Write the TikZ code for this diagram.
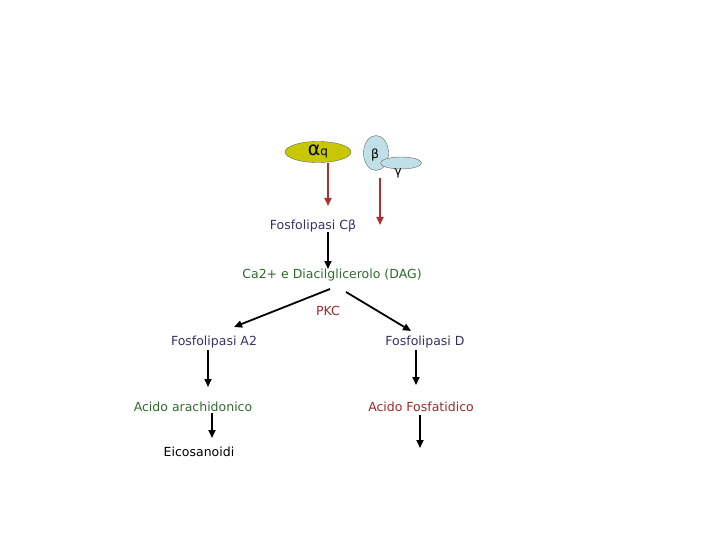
\documentclass[tikz,border=0pt]{standalone}
\usepackage{fontspec}
\setmainfont{DejaVu Sans}
\usetikzlibrary{arrows.meta,shapes.geometric}
\definecolor{navy}{HTML}{333366}
\definecolor{dgreen}{HTML}{2F6B2F}
\definecolor{dred}{HTML}{A02828}
\definecolor{olive}{HTML}{C8C800}
\definecolor{lblue}{HTML}{BFE0E6}
\definecolor{redline}{HTML}{B03030}
\tikzset{
  lbl/.style={inner sep=1pt, font=\fontsize{12.5}{14}\selectfont},
  arr/.style={line width=1.8pt, -{Triangle[length=8pt,width=7pt]}},
  redarr/.style={arr, redline},
}
\begin{document}
\begin{tikzpicture}[x=1pt,y=-1pt]
\useasboundingbox (0,0) rectangle (720,540);
% G protein subunits
\node[draw=black!60, line width=0.4pt, fill=olive, ellipse, minimum width=66, minimum height=21, inner sep=0] (aq) at (318,152) {};
\node[inner sep=0, text=black] at (318,151) {\fontsize{19}{20}\selectfont α\fontsize{12}{13}\selectfont q};
\node[draw=black!60, line width=0.4pt, fill=lblue, ellipse, minimum width=25, minimum height=35, inner sep=0] (b) at (376,153) {};
\node[lbl, text=black] at (375,155) {β};
\node[draw=black!60, line width=0.4pt, fill=lblue, ellipse, minimum width=41, minimum height=12, inner sep=0] (g) at (401,163) {};
\node[lbl, text=black] (gl) at (398,173) {γ};
% labels
\node[lbl, text=navy] (plc) at (313,226) {Fosfolipasi Cβ};
\node[lbl, text=dgreen] (dag) at (332,275) {Ca2+ e Diacilglicerolo (DAG)};
\node[lbl, text=dred] (pkc) at (328,311) {PKC};
\node[lbl, text=navy] (pla) at (214,342) {Fosfolipasi A2};
\node[lbl, text=navy] (pld) at (425,342) {Fosfolipasi D};
\node[lbl, text=dgreen] (aa) at (193,407) {Acido arachidonico};
\node[lbl, text=black] (eic) at (199,452) {Eicosanoidi};
\node[lbl, text=dred] (pa) at (421,407) {Acido Fosfatidico};
% coordinates for free arrow ends
\coordinate (r1s) at (328,163);
\coordinate (r1e) at (328,206);
\coordinate (r2s) at (380,178);
\coordinate (r2e) at (380,225);
\coordinate (c1s) at (328,232);
\coordinate (c1e) at (328,269);
\coordinate (l1s) at (330,289);
\coordinate (l1e) at (234,327);
\coordinate (rr1s) at (346,292);
\coordinate (rr1e) at (411,331);
\coordinate (a1s) at (208,350);
\coordinate (a1e) at (208,387);
\coordinate (a2s) at (212,413);
\coordinate (a2e) at (212,438);
\coordinate (d1s) at (416,350);
\coordinate (d1e) at (416,385);
\coordinate (d2s) at (420,415);
\coordinate (d2e) at (420,448);
% arrows
\draw[redarr] (r1s) -- (r1e);
\draw[redarr] (r2s) -- (r2e);
\draw[arr] (c1s) -- (c1e);
\draw[arr] (l1s) -- (l1e);
\draw[arr] (rr1s) -- (rr1e);
\draw[arr] (a1s) -- (a1e);
\draw[arr] (a2s) -- (a2e);
\draw[arr] (d1s) -- (d1e);
\draw[arr] (d2s) -- (d2e);
\end{tikzpicture}
\end{document}
